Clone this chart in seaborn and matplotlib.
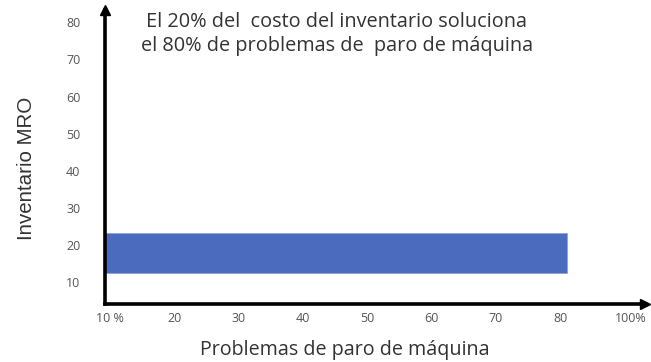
import matplotlib
matplotlib.use("Agg")
import matplotlib.pyplot as plt
import seaborn as sns
import pandas as pd

#%% data
problemas_pct = [81]          # bar length (% of machine stoppage problems)
inventario_mid = [17.8]       # bar centre on the inventory axis
bar_height = 10.8

x_ticks = [10, 20, 30, 40, 50, 60, 70, 80, 91]
x_labels = ["10 %", "20", "30", "40", "50", "60", "70", "80", "100%"]
y_ticks = [10, 20, 30, 40, 50, 60, 70, 80]
y_labels = ["10", "20", "30", "40", "50", "60", "70", "80"]

titulo = "El 20% del  costo del inventario soluciona\nel 80% de problemas de  paro de máquina"

#%% plot
sns.set_style("white")
plt.rcParams['font.family'] = ['Open Sans', 'DejaVu Sans']

df = pd.DataFrame({"problemas": problemas_pct, "inventario": inventario_mid})

fig = plt.figure(figsize=(6.51, 3.62), dpi=100)
ax = fig.add_axes([0.162, 0.160, 0.829, 0.812])

sns.barplot(data=df, x="problemas", y="inventario", orient="h", native_scale=True,
            width=bar_height, color="#4A6BBE", saturation=1,
            edgecolor="#8FA3D8", linewidth=0.6, ax=ax)

ax.set_xlim(9.3, 93.2)
ax.set_ylim(4.0, 83.3)

for s in ["top", "right"]:
    ax.spines[s].set_visible(False)
for s in ["left", "bottom"]:
    ax.spines[s].set_color("black")
    ax.spines[s].set_linewidth(2.6)

# arrow heads on the axes
ax.plot(1, 0, ">", color="black", ms=7, transform=ax.transAxes, clip_on=False)
ax.plot(0, 1, "^", color="black", ms=7, transform=ax.transAxes, clip_on=False)

ax.set_xticks(x_ticks)
ax.set_xticklabels(x_labels, fontsize=9, color="#555555")
ax.set_yticks(y_ticks)
ax.set_yticklabels(y_labels, fontsize=9, color="#555555")
ax.tick_params(axis="both", length=0)
ax.tick_params(axis="x", pad=6)
ax.tick_params(axis="y", pad=18)

ax.set_xlabel("Problemas de paro de máquina", fontsize=14.2, color="#333333")
ax.xaxis.set_label_coords(0.444, -0.122)
ax.set_ylabel("Inventario MRO", fontsize=14.8, color="#333333",
              family=["Liberation Sans"])
ax.yaxis.set_label_coords(-0.128, 0.46)

fig.text(0.517, 0.968, titulo, ha="center", va="top", fontsize=14.3,
         color="#333333", linespacing=1.3)

fig.savefig("out.png", dpi=100)
